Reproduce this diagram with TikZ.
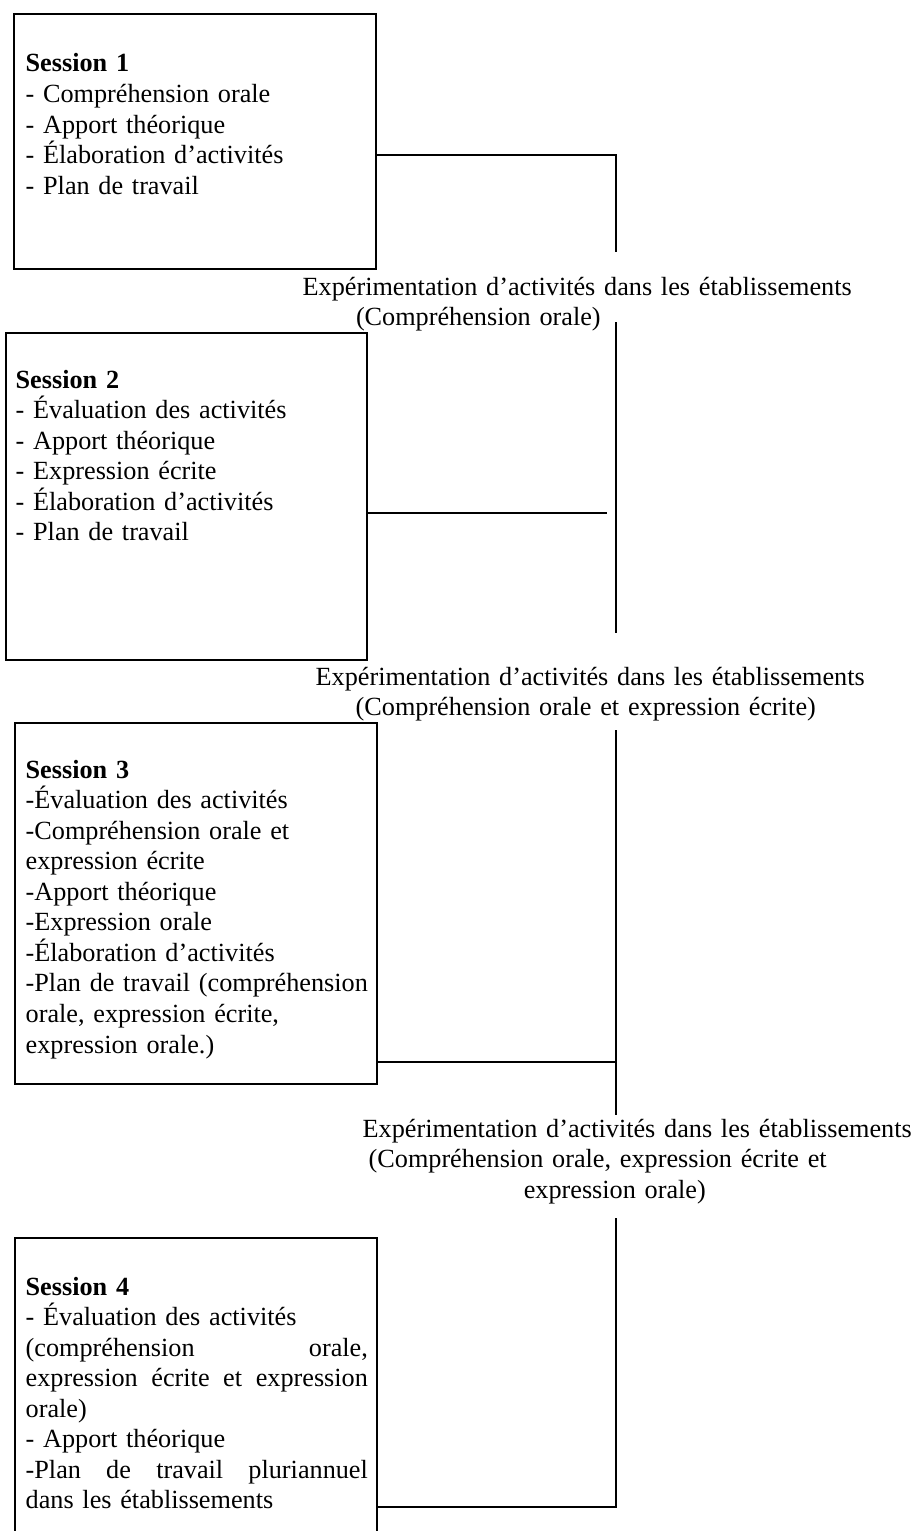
\documentclass[tikz,border=0pt]{standalone}
\usepackage{fontspec}
\setmainfont{Liberation Serif}
\usetikzlibrary{positioning, fit}

\newcommand{\spreadline}[1]{\leavevmode\hbox to 154pt{\spaceskip=0.25em plus 10em\relax #1}}

\begin{document}
\begin{tikzpicture}[x=0.45pt, y=-0.45pt, semithick,
  sessbox/.style={draw, line width=1pt, inner sep=0pt},
  sesstext/.style={anchor=base west, inner sep=0pt, text width=160pt, align=left, font=\fontsize{11.8}{13.75}\selectfont},
  exptext/.style={anchor=base west, inner sep=0pt, text width=270pt, align=left, font=\fontsize{11.8}{13.75}\selectfont},
  link/.style={line width=0.8pt}]
\useasboundingbox (0,0) rectangle (913,1531);

% session boxes
\node[sessbox, fit={(14,14) (376,269)}] (s1) {};
\node[sessbox, fit={(6,333) (367,660)}] (s2) {};
\node[sessbox, fit={(15,723) (377,1084)}] (s3) {};
\node[sessbox, fit={(15,1238) (377,1560)}] (s4) {};

\node[sesstext] (t1) at (25,72) {\textbf{Session 1}\\- Compréhension orale\\- Apport théorique\\- Élaboration d’activités\\- Plan de travail};
\node[sesstext] (t2) at (15,388) {\textbf{Session 2}\\- Évaluation des activités\\- Apport théorique\\- Expression écrite\\- Élaboration d’activités\\- Plan de travail};
\node[sesstext] (t3) at (25,778) {\textbf{Session 3}\\-Évaluation des activités\\-Compréhension orale et\\expression écrite\\-Apport théorique\\-Expression orale\\-Élaboration d’activités\\-Plan de travail (compréhension\\orale, expression écrite,\\expression orale.)};
\node[sesstext] (t4) at (25,1295) {\textbf{Session 4}\\- Évaluation des activités\\\spreadline{(compréhension orale,}\\\spreadline{expression écrite et expression}\\orale)\\- Apport théorique\\\spreadline{-Plan de travail pluriannuel}\\dans les établissements};

% experimentation labels
\node[exptext] (x1) at (302,295) {Expérimentation d’activités dans les établissements\\\hspace*{24pt}(Compréhension orale)};
\node[exptext] (x2) at (315,685) {Expérimentation d’activités dans les établissements\\\hspace*{18pt}(Compréhension orale et expression écrite)};
\node[exptext] (x3) at (362,1137) {Expérimentation d’activités dans les établissements\\\hspace*{2.7pt}(Compréhension orale, expression écrite et\\\hspace*{72.5pt}expression orale)};

% connectors
\coordinate (j1) at (616,155);
\coordinate (e1) at (616,252);
\draw[link] (s1.east |- j1) -- (j1) -- (e1);

\coordinate (b2) at (616,322);
\coordinate (e2) at (616,633);
\coordinate (j2) at (607,513);
\draw[link] (b2) -- (e2);
\draw[link] (s2.east |- j2) -- (j2);

\coordinate (b3) at (616,730);
\coordinate (e3) at (616,1115);
\coordinate (j3) at (616,1062);
\draw[link] (b3) -- (e3);
\draw[link] (s3.east |- j3) -- (j3);

\coordinate (b4) at (616,1218);
\coordinate (j4) at (616,1507);
\draw[link] (b4) -- (j4) -- (s4.east |- j4);
\end{tikzpicture}
\end{document}
